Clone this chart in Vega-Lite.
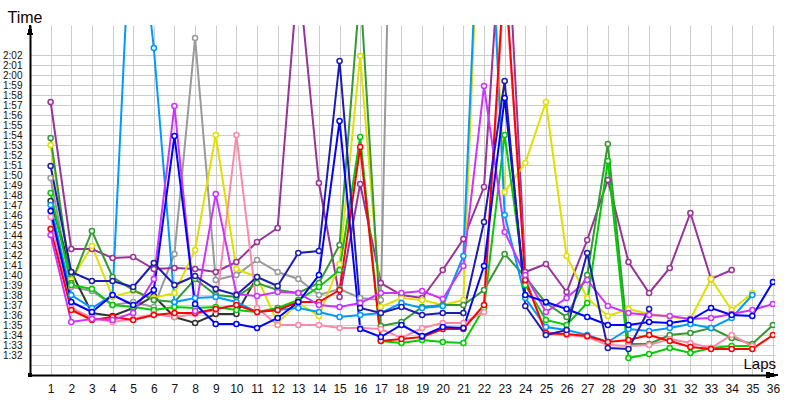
{
"$schema": "https://vega.github.io/schema/vega-lite/v6.json",
"width": 745, "height": 350,
"autosize": {"type": "none"},
"padding": {"left": 30, "top": 25, "right": 25, "bottom": 25},
"background": "white",
"config": {"view": {"stroke": null}, "font": "Liberation Sans"},
"data": {"values": [
{"s":"GR","x":1,"t":109.7},{"s":"GR","x":2,"t":98.8},{"s":"GR","x":3,"t":98.4},{"s":"GR","x":4,"t":97.0},{"s":"GR","x":5,"t":97.3},{"s":"GR","x":6,"t":96.8},{"s":"GR","x":7,"t":102.1},{"s":"GR","x":8,"t":123.7},{"s":"GR","x":9,"t":99.5},{"s":"GR","x":10,"t":100.0},{"s":"GR","x":11,"t":101.5},{"s":"GR","x":12,"t":100.3},{"s":"GR","x":13,"t":99.6},{"s":"GR","x":14,"t":98.0},{"s":"GR","x":15,"t":98.6},{"s":"GR","x":16,"t":97.7},{"s":"GR","x":17,"t":97.5},{"s":"GR","x":18,"t":188},
{"s":"DK","x":1,"t":107.4},{"s":"DK","x":2,"t":100.3},{"s":"DK","x":3,"t":96.2},{"s":"DK","x":4,"t":95.9},{"s":"DK","x":5,"t":96.7},{"s":"DK","x":6,"t":97.9},{"s":"DK","x":7,"t":95.8},{"s":"DK","x":8,"t":95.2},{"s":"DK","x":9,"t":96.1},{"s":"DK","x":10,"t":96.1},{"s":"DK","x":11,"t":99.8},
{"s":"P","x":1,"t":117.3},{"s":"P","x":2,"t":102.6},{"s":"P","x":3,"t":102.6},{"s":"P","x":4,"t":101.7},{"s":"P","x":5,"t":101.8},{"s":"P","x":6,"t":100.6},{"s":"P","x":7,"t":100.7},{"s":"P","x":8,"t":100.6},{"s":"P","x":9,"t":100.3},{"s":"P","x":10,"t":101.3},{"s":"P","x":11,"t":103.3},{"s":"P","x":12,"t":104.7},{"s":"P","x":13,"t":130.4},{"s":"P","x":14,"t":109.2},{"s":"P","x":15,"t":97.8},{"s":"P","x":16,"t":109.1},{"s":"P","x":17,"t":99.2},{"s":"P","x":18,"t":98.0},{"s":"P","x":19,"t":97.7},{"s":"P","x":20,"t":100.5},{"s":"P","x":21,"t":103.6},{"s":"P","x":22,"t":108.8},{"s":"P","x":23,"t":140},{"s":"P","x":24,"t":100.3},{"s":"P","x":25,"t":101.1},{"s":"P","x":26,"t":98.3},{"s":"P","x":27,"t":103.5},{"s":"P","x":28,"t":109.5},{"s":"P","x":29,"t":101.3},{"s":"P","x":30,"t":98.2},{"s":"P","x":31,"t":100.7},{"s":"P","x":32,"t":106.2},{"s":"P","x":33,"t":99.6},{"s":"P","x":34,"t":100.5},
{"s":"Y","x":1,"t":113.0},{"s":"Y","x":2,"t":99.5},{"s":"Y","x":3,"t":102.9},{"s":"Y","x":4,"t":97.8},{"s":"Y","x":5,"t":98.4},{"s":"Y","x":6,"t":97.7},{"s":"Y","x":7,"t":98.2},{"s":"Y","x":8,"t":102.5},{"s":"Y","x":9,"t":114.0},{"s":"Y","x":10,"t":100.6},{"s":"Y","x":11,"t":99.8},{"s":"Y","x":12,"t":95.2},{"s":"Y","x":13,"t":97.2},{"s":"Y","x":14,"t":95.9},{"s":"Y","x":15,"t":101.1},{"s":"Y","x":16,"t":121.9},{"s":"Y","x":17,"t":96.8},{"s":"Y","x":18,"t":97.7},{"s":"Y","x":19,"t":97.5},{"s":"Y","x":20,"t":97.0},{"s":"Y","x":21,"t":97.5},{"s":"Y","x":22,"t":150},{"s":"Y","x":23,"t":108.3},{"s":"Y","x":24,"t":111.2},{"s":"Y","x":25,"t":117.3},{"s":"Y","x":26,"t":101.9},{"s":"Y","x":27,"t":97.7},{"s":"Y","x":28,"t":95.9},{"s":"Y","x":29,"t":96.6},{"s":"Y","x":30,"t":96.1},{"s":"Y","x":31,"t":95.8},{"s":"Y","x":32,"t":95.6},{"s":"Y","x":33,"t":99.6},{"s":"Y","x":34,"t":96.5},{"s":"Y","x":35,"t":98.2},
{"s":"G","x":1,"t":113.7},{"s":"G","x":2,"t":99.2},{"s":"G","x":3,"t":104.4},{"s":"G","x":4,"t":99.8},{"s":"G","x":5,"t":98.5},{"s":"G","x":6,"t":97.5},{"s":"G","x":7,"t":97.3},{"s":"G","x":8,"t":99.6},{"s":"G","x":9,"t":98.0},{"s":"G","x":10,"t":97.8},{"s":"G","x":11,"t":99.2},{"s":"G","x":12,"t":98.5},{"s":"G","x":13,"t":98.2},{"s":"G","x":14,"t":99.2},{"s":"G","x":15,"t":103.0},{"s":"G","x":16,"t":128.7},{"s":"G","x":17,"t":94.9},{"s":"G","x":18,"t":95.3},{"s":"G","x":19,"t":96.8},{"s":"G","x":20,"t":97.0},{"s":"G","x":21,"t":97.0},{"s":"G","x":22,"t":98.5},{"s":"G","x":23,"t":102.1},{"s":"G","x":24,"t":99.8},{"s":"G","x":25,"t":97.2},{"s":"G","x":26,"t":95.8},{"s":"G","x":27,"t":100.0},{"s":"G","x":28,"t":113.1},{"s":"G","x":29,"t":93.1},{"s":"G","x":30,"t":93.1},{"s":"G","x":31,"t":94.0},{"s":"G","x":32,"t":94.2},{"s":"G","x":33,"t":94.7},{"s":"G","x":34,"t":93.7},{"s":"G","x":35,"t":93.1},{"s":"G","x":36,"t":95.0},
{"s":"LG","x":1,"t":108.2},{"s":"LG","x":2,"t":99.0},{"s":"LG","x":3,"t":98.6},{"s":"LG","x":4,"t":97.0},{"s":"LG","x":5,"t":96.8},{"s":"LG","x":6,"t":96.5},{"s":"LG","x":7,"t":96.8},{"s":"LG","x":8,"t":96.7},{"s":"LG","x":9,"t":96.8},{"s":"LG","x":10,"t":96.5},{"s":"LG","x":11,"t":96.3},{"s":"LG","x":12,"t":96.7},{"s":"LG","x":13,"t":97.5},{"s":"LG","x":14,"t":98.8},{"s":"LG","x":15,"t":100.5},{"s":"LG","x":16,"t":113.8},{"s":"LG","x":17,"t":93.4},{"s":"LG","x":18,"t":93.2},{"s":"LG","x":19,"t":93.5},{"s":"LG","x":20,"t":93.3},{"s":"LG","x":21,"t":93.2},{"s":"LG","x":22,"t":96.7},{"s":"LG","x":23,"t":114.0},{"s":"LG","x":24,"t":99.0},{"s":"LG","x":25,"t":95.5},{"s":"LG","x":26,"t":95.0},{"s":"LG","x":27,"t":97.2},{"s":"LG","x":28,"t":111.4},{"s":"LG","x":29,"t":91.7},{"s":"LG","x":30,"t":92.1},{"s":"LG","x":31,"t":92.7},{"s":"LG","x":32,"t":92.2},{"s":"LG","x":33,"t":92.7},{"s":"LG","x":34,"t":92.9},{"s":"LG","x":35,"t":92.9},
{"s":"LB","x":1,"t":107.0},{"s":"LB","x":2,"t":98.0},{"s":"LB","x":3,"t":96.7},{"s":"LB","x":4,"t":98.0},{"s":"LB","x":5,"t":141},{"s":"LB","x":6,"t":122.7},{"s":"LB","x":7,"t":97.3},{"s":"LB","x":8,"t":97.7},{"s":"LB","x":9,"t":97.8},{"s":"LB","x":10,"t":97.3},{"s":"LB","x":11,"t":96.3},{"s":"LB","x":12,"t":96.5},{"s":"LB","x":13,"t":96.7},{"s":"LB","x":14,"t":96.3},{"s":"LB","x":15,"t":95.8},{"s":"LB","x":16,"t":96.0},{"s":"LB","x":17,"t":96.2},{"s":"LB","x":18,"t":97.2},{"s":"LB","x":19,"t":96.7},{"s":"LB","x":20,"t":96.9},{"s":"LB","x":21,"t":101.9},{"s":"LB","x":22,"t":150},{"s":"LB","x":23,"t":106.0},{"s":"LB","x":24,"t":97.7},{"s":"LB","x":25,"t":94.8},{"s":"LB","x":26,"t":94.5},{"s":"LB","x":27,"t":94.0},{"s":"LB","x":28,"t":93.3},{"s":"LB","x":29,"t":94.6},{"s":"LB","x":30,"t":94.4},{"s":"LB","x":31,"t":94.7},{"s":"LB","x":32,"t":95.1},{"s":"LB","x":33,"t":94.7},{"s":"LB","x":34,"t":95.7},{"s":"LB","x":35,"t":98.0},
{"s":"PK","x":1,"t":105.8},{"s":"PK","x":2,"t":96.7},{"s":"PK","x":3,"t":95.7},{"s":"PK","x":4,"t":95.3},{"s":"PK","x":5,"t":95.6},{"s":"PK","x":6,"t":96.1},{"s":"PK","x":7,"t":95.8},{"s":"PK","x":8,"t":96.1},{"s":"PK","x":9,"t":96.5},{"s":"PK","x":10,"t":114.0},{"s":"PK","x":11,"t":96.7},{"s":"PK","x":12,"t":95.0},{"s":"PK","x":13,"t":95.0},{"s":"PK","x":14,"t":95.0},{"s":"PK","x":15,"t":94.7},{"s":"PK","x":16,"t":94.7},{"s":"PK","x":17,"t":94.6},{"s":"PK","x":18,"t":93.7},{"s":"PK","x":19,"t":94.7},{"s":"PK","x":20,"t":95.2},{"s":"PK","x":21,"t":95.2},{"s":"PK","x":22,"t":96.3},{"s":"PK","x":23,"t":130},{"s":"PK","x":24,"t":99.8},{"s":"PK","x":25,"t":94.1},{"s":"PK","x":26,"t":94.0},{"s":"PK","x":27,"t":93.8},{"s":"PK","x":28,"t":93.0},{"s":"PK","x":29,"t":92.9},{"s":"PK","x":30,"t":93.0},{"s":"PK","x":31,"t":93.6},{"s":"PK","x":32,"t":93.2},{"s":"PK","x":33,"t":92.7},{"s":"PK","x":34,"t":94.0},{"s":"PK","x":35,"t":92.9},
{"s":"R","x":1,"t":104.6},{"s":"R","x":2,"t":96.5},{"s":"R","x":3,"t":95.5},{"s":"R","x":4,"t":95.8},{"s":"R","x":5,"t":95.5},{"s":"R","x":6,"t":96.0},{"s":"R","x":7,"t":96.2},{"s":"R","x":8,"t":96.2},{"s":"R","x":9,"t":96.6},{"s":"R","x":10,"t":97.0},{"s":"R","x":11,"t":96.3},{"s":"R","x":12,"t":96.5},{"s":"R","x":13,"t":97.3},{"s":"R","x":14,"t":97.3},{"s":"R","x":15,"t":98.5},{"s":"R","x":16,"t":112.8},{"s":"R","x":17,"t":93.4},{"s":"R","x":18,"t":93.6},{"s":"R","x":19,"t":93.8},{"s":"R","x":20,"t":94.6},{"s":"R","x":21,"t":94.6},{"s":"R","x":22,"t":97.0},{"s":"R","x":23,"t":131},{"s":"R","x":24,"t":99.5},{"s":"R","x":25,"t":94.2},{"s":"R","x":26,"t":94.1},{"s":"R","x":27,"t":93.9},{"s":"R","x":28,"t":93.3},{"s":"R","x":29,"t":93.5},{"s":"R","x":30,"t":94.0},{"s":"R","x":31,"t":93.4},{"s":"R","x":32,"t":92.8},{"s":"R","x":33,"t":92.6},{"s":"R","x":34,"t":92.6},{"s":"R","x":35,"t":92.6},{"s":"R","x":36,"t":94.0},
{"s":"V","x":1,"t":104.0},{"s":"V","x":2,"t":95.3},{"s":"V","x":3,"t":95.6},{"s":"V","x":4,"t":95.5},{"s":"V","x":5,"t":96.2},{"s":"V","x":6,"t":99.6},{"s":"V","x":7,"t":116.9},{"s":"V","x":8,"t":96.4},{"s":"V","x":9,"t":108.1},{"s":"V","x":10,"t":98.1},{"s":"V","x":11,"t":97.9},{"s":"V","x":12,"t":98.3},{"s":"V","x":13,"t":98.2},{"s":"V","x":14,"t":97.0},{"s":"V","x":15,"t":96.8},{"s":"V","x":16,"t":97.2},{"s":"V","x":17,"t":98.2},{"s":"V","x":18,"t":98.2},{"s":"V","x":19,"t":98.4},{"s":"V","x":20,"t":97.6},{"s":"V","x":21,"t":100.9},{"s":"V","x":22,"t":118.9},{"s":"V","x":23,"t":104.3},{"s":"V","x":24,"t":100.0},{"s":"V","x":25,"t":96.3},{"s":"V","x":26,"t":97.7},{"s":"V","x":27,"t":99.5},{"s":"V","x":28,"t":96.9},{"s":"V","x":29,"t":96.2},{"s":"V","x":30,"t":96.0},{"s":"V","x":31,"t":95.9},{"s":"V","x":32,"t":95.6},{"s":"V","x":33,"t":95.7},{"s":"V","x":34,"t":96.1},{"s":"V","x":35,"t":96.5},{"s":"V","x":36,"t":97.1},
{"s":"B","x":1,"t":106.4},{"s":"B","x":2,"t":97.3},{"s":"B","x":3,"t":96.3},{"s":"B","x":4,"t":98.0},{"s":"B","x":5,"t":97.0},{"s":"B","x":6,"t":98.5},{"s":"B","x":7,"t":113.9},{"s":"B","x":8,"t":97.1},{"s":"B","x":9,"t":95.1},{"s":"B","x":10,"t":95.1},{"s":"B","x":11,"t":94.7},{"s":"B","x":12,"t":95.7},{"s":"B","x":13,"t":97.3},{"s":"B","x":14,"t":100.0},{"s":"B","x":15,"t":115.4},{"s":"B","x":16,"t":94.6},{"s":"B","x":17,"t":93.8},{"s":"B","x":18,"t":95.0},{"s":"B","x":19,"t":93.9},{"s":"B","x":20,"t":94.8},{"s":"B","x":21,"t":94.7},{"s":"B","x":22,"t":100.9},{"s":"B","x":23,"t":117.7},{"s":"B","x":24,"t":98.0},{"s":"B","x":25,"t":97.3},{"s":"B","x":26,"t":96.6},{"s":"B","x":27,"t":95.8},{"s":"B","x":28,"t":95.0},{"s":"B","x":29,"t":95.0},{"s":"B","x":30,"t":95.3},{"s":"B","x":31,"t":95.2},{"s":"B","x":32,"t":95.5},{"s":"B","x":33,"t":96.7},{"s":"B","x":34,"t":96.0},{"s":"B","x":35,"t":95.9},{"s":"B","x":36,"t":99.3},
{"s":"N","x":1,"t":110.9},{"s":"N","x":2,"t":100.3},{"s":"N","x":3,"t":99.4},{"s":"N","x":4,"t":99.4},{"s":"N","x":5,"t":98.8},{"s":"N","x":6,"t":101.2},{"s":"N","x":7,"t":99.0},{"s":"N","x":8,"t":99.9},{"s":"N","x":9,"t":98.6},{"s":"N","x":10,"t":98.0},{"s":"N","x":11,"t":99.8},{"s":"N","x":12,"t":98.9},{"s":"N","x":13,"t":102.2},{"s":"N","x":14,"t":102.4},{"s":"N","x":15,"t":121.4},{"s":"N","x":16,"t":96.7},{"s":"N","x":17,"t":96.2},{"s":"N","x":18,"t":96.8},{"s":"N","x":19,"t":96.0},{"s":"N","x":20,"t":96.2},{"s":"N","x":21,"t":96.2},{"s":"N","x":22,"t":105.3},{"s":"N","x":23,"t":119.4},{"s":"N","x":24,"t":96.9},{"s":"N","x":25,"t":94.0},{"s":"N","x":26,"t":94.5},{"s":"N","x":27,"t":102.2},{"s":"N","x":28,"t":92.7},{"s":"N","x":29,"t":92.6},{"s":"N","x":30,"t":96.6}
]},
"encoding": {
  "x": {"field": "x", "type": "quantitative",
    "scale": {"domain": [0, 36.1], "nice": false, "zero": false},
    "axis": {"title": "Laps", "values": [1,2,3,4,5,6,7,8,9,10,11,12,13,14,15,16,17,18,19,20,21,22,23,24,25,26,27,28,29,30,31,32,33,34,35,36],
      "labelOverlap": false, "labelFlush": false,
      "grid": true, "gridColor": "#cccccc", "gridWidth": 1, "ticks": false, "domainColor": "#000000", "domainWidth": 2,
      "labelFont": "Liberation Sans", "labelFontSize": 12, "labelColor": "#111111", "labelPadding": 8, "labelBaseline": "top",
      "titleFont": "Liberation Sans", "titleFontSize": 15, "titleFontWeight": "normal", "titleColor": "#110000",
      "titleAnchor": "start", "titleAlign": "left", "titleBaseline": "alphabetic", "titleX": 713, "titleY": -7}},
  "y": {"field": "t", "type": "quantitative",
    "scale": {"domain": [90, 125], "nice": false, "zero": false},
    "axis": {"title": "Time", "values": [91,92,93,94,95,96,97,98,99,100,101,102,103,104,105,106,107,108,109,110,111,112,113,114,115,116,117,118,119,120,121,122],
      "labelOverlap": false, "labelFlush": false,
      "labelExpr": "datum.value < 92 ? '' : floor(datum.value/60) + ':' + (datum.value % 60 < 10 ? '0' : '') + (datum.value % 60)",
      "grid": true, "gridColor": "#cccccc", "gridWidth": 1, "ticks": false, "domainColor": "#000000", "domainWidth": 2,
      "labelFont": "Liberation Sans", "labelFontSize": 10, "labelColor": "#221100", "labelPadding": 8,
      "titleFont": "Liberation Sans", "titleFontSize": 16, "titleFontWeight": "normal", "titleColor": "#110000",
      "titleAngle": 0, "titleAlign": "left", "titleBaseline": "alphabetic", "titleX": -23, "titleY": -3}},
  "color": {"field": "s", "type": "nominal", "legend": null,
    "scale": {"domain": ["GR","DK","P","Y","G","LG","LB","PK","R","V","B","N"],
      "range": ["#999999","#333333","#993399","#e0e000","#339933","#00cc00","#0099ff","#ff88aa","#ff0000","#cc33ff","#0000ff","#1c1cb4"]}}
},
"layer": [
  {"mark": {"type": "line", "strokeWidth": 2, "clip": true}},
  {"mark": {"type": "point", "shape": "circle", "filled": false, "fill": "white", "size": 26, "strokeWidth": 1.5, "opacity": 1, "clip": true}},
  {"mark": {"type": "point", "shape": "M0,0L-0.25,1L0.25,1Z", "filled": true, "size": 400, "clip": false},
   "encoding": {"x": {"datum": 0, "type": "quantitative"}, "y": {"datum": 125, "type": "quantitative"}, "color": {"value": "black"}}},
  {"mark": {"type": "point", "shape": "M0,0L-1,-0.25L-1,0.25Z", "filled": true, "size": 484, "clip": false},
   "encoding": {"x": {"datum": 36.24, "type": "quantitative"}, "y": {"datum": 90, "type": "quantitative"}, "color": {"value": "black"}}},
  {"mark": {"type": "point", "shape": "square", "filled": true, "size": 16, "clip": false},
   "encoding": {"x": {"datum": 0, "type": "quantitative"}, "y": {"datum": 90, "type": "quantitative"}, "color": {"value": "black"}}}
]
}
